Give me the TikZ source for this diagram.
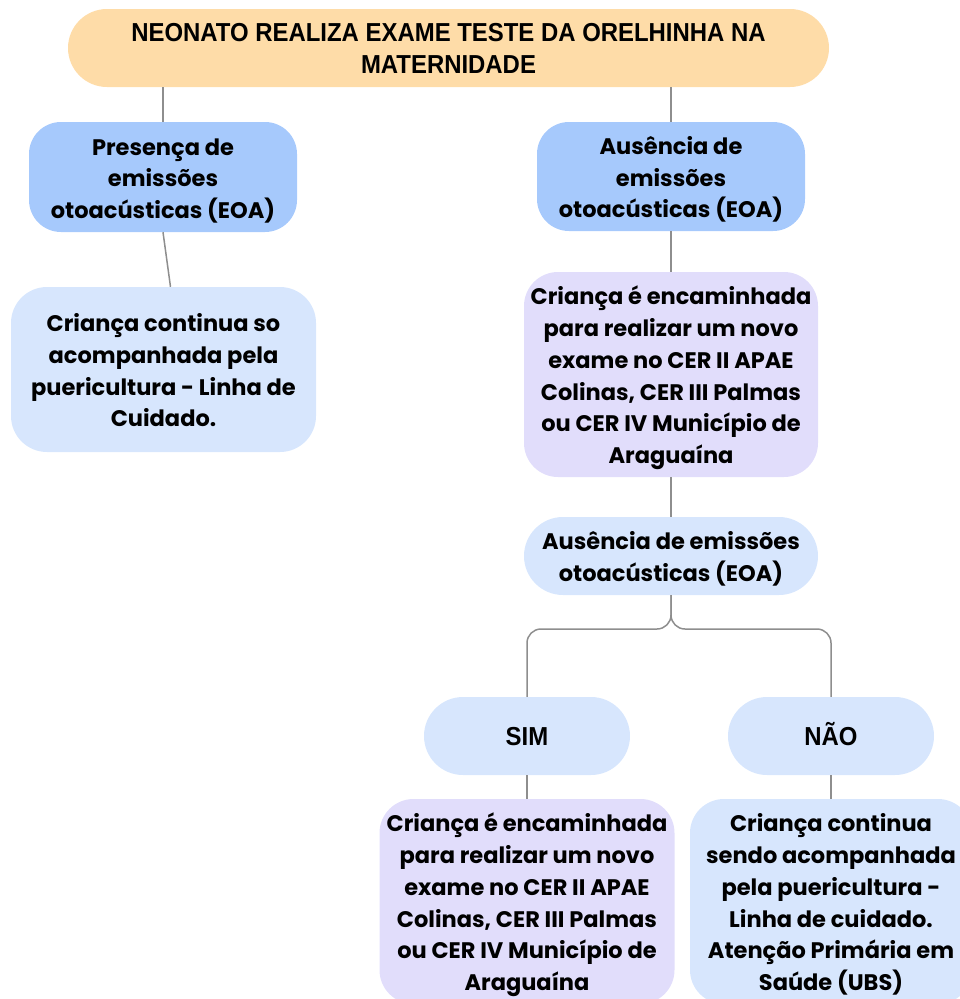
\documentclass[tikz,border=0pt]{standalone}
\usepackage{fontspec}
\setmainfont{Poppins}
\newfontfamily\headfont{Liberation Sans}[FakeStretch=0.92]

\definecolor{peach}{HTML}{FEDCA8}
\definecolor{skyblue}{HTML}{A6C9FC}
\definecolor{paleblue}{HTML}{D7E6FD}
\definecolor{lavender}{HTML}{E1DDFB}
\definecolor{linkgray}{HTML}{8E8E8E}

% uniform line box for the first and last line of every card
\newcommand\firstline{\rule{0pt}{27pt}}
\newcommand\lastline{\rule[-7.6pt]{0pt}{7.6pt}}

\tikzset{
  card/.style={rounded corners=#1, inner sep=0pt, align=center, text=black,
    font=\fontsize{22.5}{31.7}\selectfont\bfseries},
  card/.default=34pt,
  headcard/.style={card=39pt, font=\headfont\fontsize{26}{32}\selectfont\bfseries},
  tag/.style={headcard, fill=paleblue, minimum width=206pt, minimum height=78pt,
    text height=18.6pt, text depth=0pt},
  link/.style={draw=linkgray, line width=1.5pt},
}

\begin{document}
\begin{tikzpicture}[x=1pt, y=-1pt]
\useasboundingbox (0,0) rectangle (960,999);

% top question
\node[headcard, fill=peach, minimum width=761pt, minimum height=78pt] (title) at (448.5,48)
  {NEONATO REALIZA EXAME TESTE DA ORELHINHA NA\\MATERNIDADE};

% left branch
\node[card=32pt, fill=skyblue, minimum width=268pt, minimum height=110pt] (pres) at (163,177)
  {\firstline Presença de\\emissões\\otoacústicas (EOA)\lastline};
\node[card=36pt, fill=paleblue, minimum width=305pt, minimum height=165pt] (keep1) at (163.5,369.5)
  {\firstline Criança continua so\\acompanhada pela\\puericultura - Linha de\\Cuidado.\lastline};

% right branch
\node[card=32pt, fill=skyblue, minimum width=268pt, minimum height=109pt] (abs1) at (671,176.5)
  {\firstline Ausência de\\emissões\\otoacústicas (EOA)\lastline};
\node[card, fill=lavender, minimum width=294pt, minimum height=205pt] (refer1) at (671,374.5)
  {\firstline Criança é encaminhada\\para realizar um novo\\exame no CER II APAE\\Colinas, CER III Palmas\\ou CER IV Município de\\Araguaína\lastline};
\node[card=39pt, fill=paleblue, minimum width=294pt, minimum height=78pt] (abs2) at (671,556)
  {\firstline Ausência de emissões\\otoacústicas (EOA)\lastline};

% yes / no
\node[tag] (yes) at (527,736) {SIM};
\node[tag] (no) at (831,736) {NÃO};

\node[card, fill=lavender, minimum width=295pt, minimum height=205pt] (refer2) at (527,901.5)
  {\firstline Criança é encaminhada\\para realizar um novo\\exame no CER II APAE\\Colinas, CER III Palmas\\ou CER IV Município de\\Araguaína\lastline};
\node[card, fill=paleblue, minimum width=282pt, minimum height=205pt] (keep2) at (831,901.5)
  {\firstline Criança continua\\sendo acompanhada\\pela puericultura -\\Linha de cuidado.\\Atenção Primária em\\Saúde (UBS)\lastline};

% connectors
\draw[link] (title.south -| pres.north) -- (pres.north);
\draw[link] (title.south -| abs1.north) -- (abs1.north);
\draw[link] (pres.south) -- ([xshift=7pt]keep1.north);
\draw[link] (abs1.south) -- (refer1.north);
\draw[link] (refer1.south) -- (abs2.north);
\coordinate (split) at (671,629);
\draw[link, rounded corners=14pt] (abs2.south) -- (split) -- (split -| yes.north) -- (yes.north);
\draw[link, rounded corners=14pt] (abs2.south) -- (split) -- (split -| no.north) -- (no.north);
\draw[link] (yes.south) -- (refer2.north);
\draw[link] (no.south) -- (keep2.north);
\end{tikzpicture}
\end{document}
